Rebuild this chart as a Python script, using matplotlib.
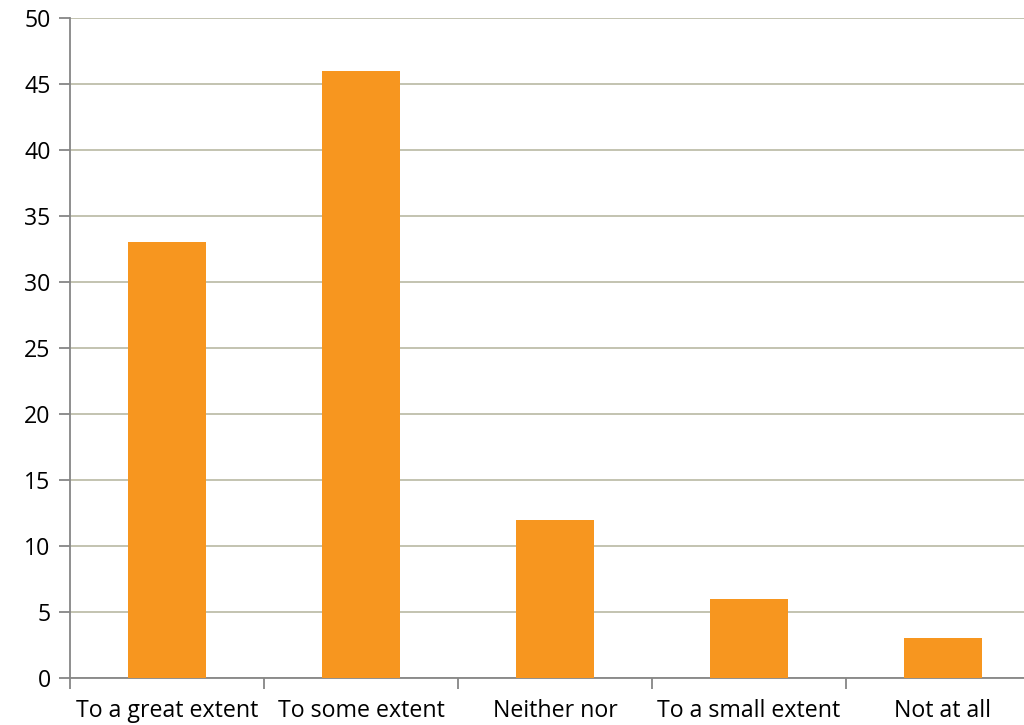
import matplotlib.pyplot as plt
import numpy as np

categories = ["To a great extent", "To some extent", "Neither nor",
              "To a small extent", "Not at all"]
values = [33, 46, 12, 6, 3]

plt.rcParams['font.family'] = ['Open Sans', 'DejaVu Sans']

fig = plt.figure(figsize=(10.24, 7.25), dpi=100)
ax = fig.add_axes([70/1024, 47/725, 970/1024, 660/725])

x = np.arange(len(categories))
ax.bar(x, values, width=0.4, color="#F7961F", zorder=3)

ax.set_xlim(-0.5, len(categories) - 0.5)
ax.set_ylim(0, 50)
ax.set_yticks(np.arange(0, 51, 5))
ax.yaxis.grid(True, color="#BEBEAA", linewidth=1.3, zorder=0)

ax.set_xticks(x)
ax.set_xticklabels(categories)
ax.set_xticks(np.arange(-0.5, len(categories), 1), minor=True)
ax.tick_params(axis='x', which='major', length=0, pad=15, labelsize=16.7)
ax.tick_params(axis='x', which='minor', length=8, color="#868686", width=1.3)
ax.tick_params(axis='y', length=8, color="#868686", width=1.3, pad=6, labelsize=16.7)

for side in ["top", "right"]:
    ax.spines[side].set_visible(False)
for side in ["left", "bottom"]:
    ax.spines[side].set_color("#868686")
    ax.spines[side].set_linewidth(1.3)

fig.savefig("out.png", dpi=100)
